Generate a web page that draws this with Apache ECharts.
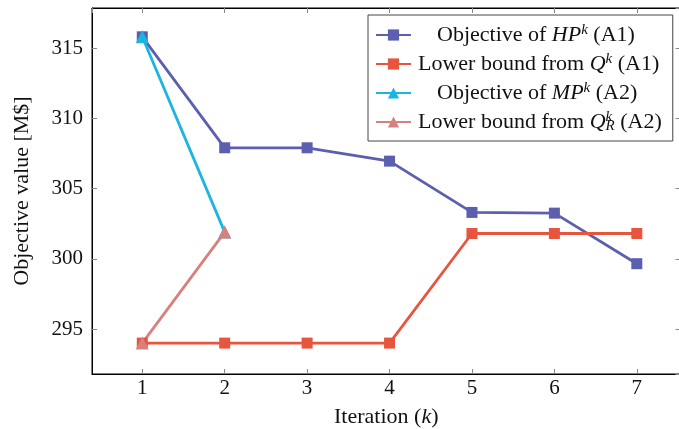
<!DOCTYPE html>
<html>
<head>
<meta charset="utf-8">
<script src="https://cdn.jsdelivr.net/npm/echarts@6/dist/echarts.min.js"></script>
<style>html,body{margin:0;padding:0;background:#fff;}#c{width:679px;height:429px;}</style>
</head>
<body>
<div id="c"></div>
<script>
// ---- data ----
var iterations = [1, 2, 3, 4, 5, 6, 7];
var hpObjective = [315.8, 307.9, 307.9, 306.95, 303.3, 303.25, 299.65];
var qLowerBound = [294.0, 294.0, 294.0, 294.0, 301.8, 301.8, 301.8];
var mpIterations = [1, 2];
var mpObjective = [315.8, 301.9];
var qrLowerBound = [294.0, 301.9];
var xTickLabels = ['1', '2', '3', '4', '5', '6', '7'];
var yTickLabels = ['295', '300', '305', '310', '315'];
var seriesNames = ['hp', 'q', 'mp', 'qr'];
var legendLabels = {
  hp: '{sp|}{t|Objective of }{i|HP}{sup|k}{t| (A1)}',
  q: '{t|Lower bound from }{i|Q}{sup|k}{t| (A1)}',
  mp: '{sp|}{t|Objective of }{i|MP}{sup|k}{t| (A2)}',
  qr: '{t|Lower bound from }{i|Q}{supz|k}{sub|R}{t| (A2)}'
};
var yAxisTitle = 'Objective value [M$]';
var xAxisTitle = '{t|Iteration (}{i|k}{t|)}';

function pairs(xs, ys) { return xs.map(function (x, i) { return [x, ys[i]]; }); }

var FONT = 'Liberation Serif';
var colors = { hp: '#5b5fae', q: '#e8553e', mp: '#1cb5e0', qr: '#d7807c' };

var chart = echarts.init(document.getElementById('c'), null, { renderer: 'canvas' });

var xBase = {
  type: 'value', min: 0.39, max: 7.53, minInterval: 1, maxInterval: 1,
  axisLine: { show: true, lineStyle: { color: '#000', width: 1 } },
  axisTick: { show: true, inside: true, length: 5, lineStyle: { color: '#888', width: 1 } },
  splitLine: { show: false }
};
var yBase = {
  type: 'value', min: 291.8, max: 317.85, minInterval: 5, maxInterval: 5,
  axisLine: { show: true, lineStyle: { color: '#000', width: 1 } },
  axisTick: { show: true, inside: true, length: 5, lineStyle: { color: '#888', width: 1 } },
  splitLine: { show: false }
};

function mk(name, data, symbol, size) {
  return {
    name: name, type: 'line', data: data, xAxisIndex: 0, yAxisIndex: 0,
    symbol: symbol, symbolSize: size, showSymbol: true,
    lineStyle: { color: colors[name], width: 2.8 },
    itemStyle: { color: colors[name], borderWidth: 0 },
    emphasis: { disabled: true }, animation: false
  };
}

var option = {
  animation: false,
  grid: { left: 92, top: 8, right: -1.5, bottom: 55, containLabel: false, outerBoundsMode: 'none',
          show: true, borderColor: '#000', borderWidth: 1, backgroundColor: 'transparent' },
  xAxis: [
    Object.assign({}, xBase, {
      position: 'bottom',
      name: xAxisTitle, nameLocation: 'middle', nameGap: 32,
      nameTextStyle: { rich: { t: { fontFamily: FONT, fontSize: 22, color: '#111' }, i: { fontFamily: FONT, fontSize: 22, fontStyle: 'italic', color: '#111' } } },
      axisLabel: {
        show: true, margin: 4, fontFamily: FONT, fontSize: 21, color: '#111',
        showMinLabel: false, showMaxLabel: false,
        formatter: function (v) { var i = iterations.indexOf(v); return i >= 0 ? xTickLabels[i] : ''; }
      }
    }),
    Object.assign({}, xBase, { position: 'top', axisLabel: { show: false } })
  ],
  yAxis: [
    Object.assign({}, yBase, {
      position: 'left',
      name: yAxisTitle, nameLocation: 'middle', nameGap: 59, nameRotate: 90,
      nameTextStyle: { fontFamily: FONT, fontSize: 22, color: '#111' },
      axisLabel: {
        show: true, margin: 9, fontFamily: FONT, fontSize: 21, color: '#111',
        showMinLabel: false, showMaxLabel: false,
        formatter: function (v) { var s = String(Math.round(v)); return yTickLabels.indexOf(s) >= 0 && Math.abs(v - Math.round(v)) < 1e-6 ? s : ''; }
      }
    }),
    Object.assign({}, yBase, { position: 'right', axisLabel: { show: false } })
  ],
  legend: {
    show: true, orient: 'vertical', left: 368, top: 15,
    padding: [8, 11, 7, 7], itemGap: 6, itemWidth: 35, itemHeight: 14,
    borderColor: '#444', borderWidth: 1, backgroundColor: '#fff',
    data: seriesNames,
    formatter: function (name) { return legendLabels[name]; },
    textStyle: {
      fontFamily: FONT, fontSize: 22, color: '#111', padding: [0, 0, 0, 2],
      rich: {
        sp: { width: 19 },
        t: { fontFamily: FONT, fontSize: 22, color: '#111', lineHeight: 24 },
        i: { fontFamily: FONT, fontSize: 22, fontStyle: 'italic', color: '#111', lineHeight: 24 },
        sup: { fontFamily: FONT, fontSize: 15, fontStyle: 'italic', color: '#111', verticalAlign: 'top', lineHeight: 15 },
        supz: { fontFamily: FONT, fontSize: 15, fontStyle: 'italic', color: '#111', verticalAlign: 'top', lineHeight: 15, width: 0 },
        sub: { fontFamily: FONT, fontSize: 15, fontStyle: 'italic', color: '#111', verticalAlign: 'bottom', lineHeight: 15 }
      }
    }
  },
  series: [
    mk('hp', pairs(iterations, hpObjective), 'rect', 11),
    mk('q', pairs(iterations, qLowerBound), 'rect', 11),
    mk('mp', pairs(mpIterations, mpObjective), 'triangle', 13),
    mk('qr', pairs(mpIterations, qrLowerBound), 'triangle', 13)
  ]
};
chart.setOption(option);
</script>
</body>
</html>
